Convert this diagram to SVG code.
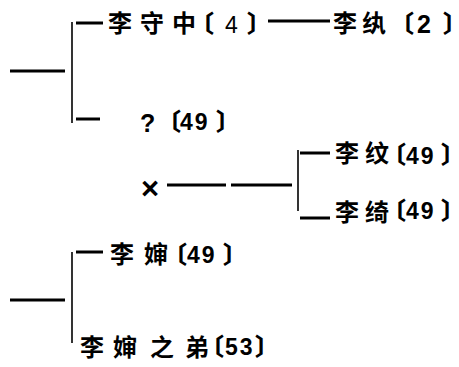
<svg xmlns="http://www.w3.org/2000/svg" width="459" height="367" viewBox="0 0 459 367">
<style>
.c{font-family:"Noto Sans CJK SC","Noto Sans CJK TC",sans-serif;font-size:24px;font-weight:bold;fill:#000}
.b{font-family:"Noto Sans CJK SC","Noto Sans CJK TC",sans-serif;font-size:24px;font-weight:900;fill:#000;font-feature-settings:"halt" 1}
.d{font-family:"Liberation Sans",sans-serif;font-size:23px;font-weight:bold;fill:#000;letter-spacing:2px}
.ln{stroke:#000;stroke-width:3;fill:none}
.vl{stroke:#000;stroke-width:1.6;fill:none}
</style>
<rect width="459" height="367" fill="#fff"/>
<g id="connectors">
<line class="ln" x1="10" y1="71" x2="65" y2="71"/>
<line class="vl" x1="72" y1="22" x2="72" y2="123"/>
<line class="ln" x1="76" y1="23" x2="103" y2="23"/>
<line class="ln" x1="76" y1="119" x2="100" y2="119"/>
<line class="ln" x1="268" y1="21" x2="330" y2="21"/>
<line class="ln" x1="167" y1="185" x2="226" y2="185"/>
<line class="ln" x1="231" y1="185" x2="292" y2="185"/>
<line class="vl" x1="298" y1="150" x2="298" y2="211"/>
<line class="ln" x1="300" y1="153" x2="330" y2="153"/>
<line class="ln" x1="300" y1="218" x2="330" y2="218"/>
<line class="ln" x1="10" y1="300" x2="65" y2="300"/>
<line class="vl" x1="72" y1="252" x2="72" y2="343"/>
<line class="ln" x1="76" y1="252" x2="103" y2="252"/>
</g>
<g id="n-lishouzhong">
<text class="c" y="32"><tspan x="108">李</tspan><tspan x="140">守</tspan><tspan x="172">中</tspan></text>
<text class="b" x="202" y="32">〔</text>
<text class="d" x="225" y="33" style="font-weight:normal">4</text>
<text class="b" x="247" y="32">〕</text>
</g>
<g id="n-liwan">
<text class="c" y="32"><tspan x="333">李</tspan><tspan x="362">纨</tspan></text>
<text class="b" x="402" y="32">〔</text>
<text class="d" x="417" y="33" style="font-size:25px">2</text>
<text class="b" x="443" y="32">〕</text>
</g>
<g id="n-unknown">
<text class="d" x="140" y="132" style="font-size:25px">?</text>
<text class="b" x="169" y="130">〔</text>
<text class="d" x="180" y="130">49</text>
<text class="b" x="216" y="130">〕</text>
</g>
<g id="n-x">
<text class="d" x="141" y="199" style="font-size:31px">×</text>
</g>
<g id="n-liwen">
<text class="c" y="162"><tspan x="335">李</tspan><tspan x="365">纹</tspan></text>
<text class="b" x="394" y="163">〔</text>
<text class="d" x="406" y="164">49</text>
<text class="b" x="441" y="163">〕</text>
</g>
<g id="n-liqi">
<text class="c" y="221"><tspan x="335">李</tspan><tspan x="365">绮</tspan></text>
<text class="b" x="394" y="219">〔</text>
<text class="d" x="406" y="219">49</text>
<text class="b" x="441" y="219">〕</text>
</g>
<g id="n-lishen">
<text class="c" y="263"><tspan x="110">李</tspan><tspan x="144">婶</tspan></text>
<text class="b" x="175" y="263">〔</text>
<text class="d" x="187" y="263">49</text>
<text class="b" x="223" y="263">〕</text>
</g>
<g id="n-lishen-brother">
<text class="c" y="356"><tspan x="80">李</tspan><tspan x="113">婶</tspan><tspan x="150">之</tspan><tspan x="185">弟</tspan></text>
<text class="b" x="212" y="355">〔</text>
<text class="d" x="225" y="355">53</text>
<text class="b" x="255" y="355">〕</text>
</g>
</svg>
